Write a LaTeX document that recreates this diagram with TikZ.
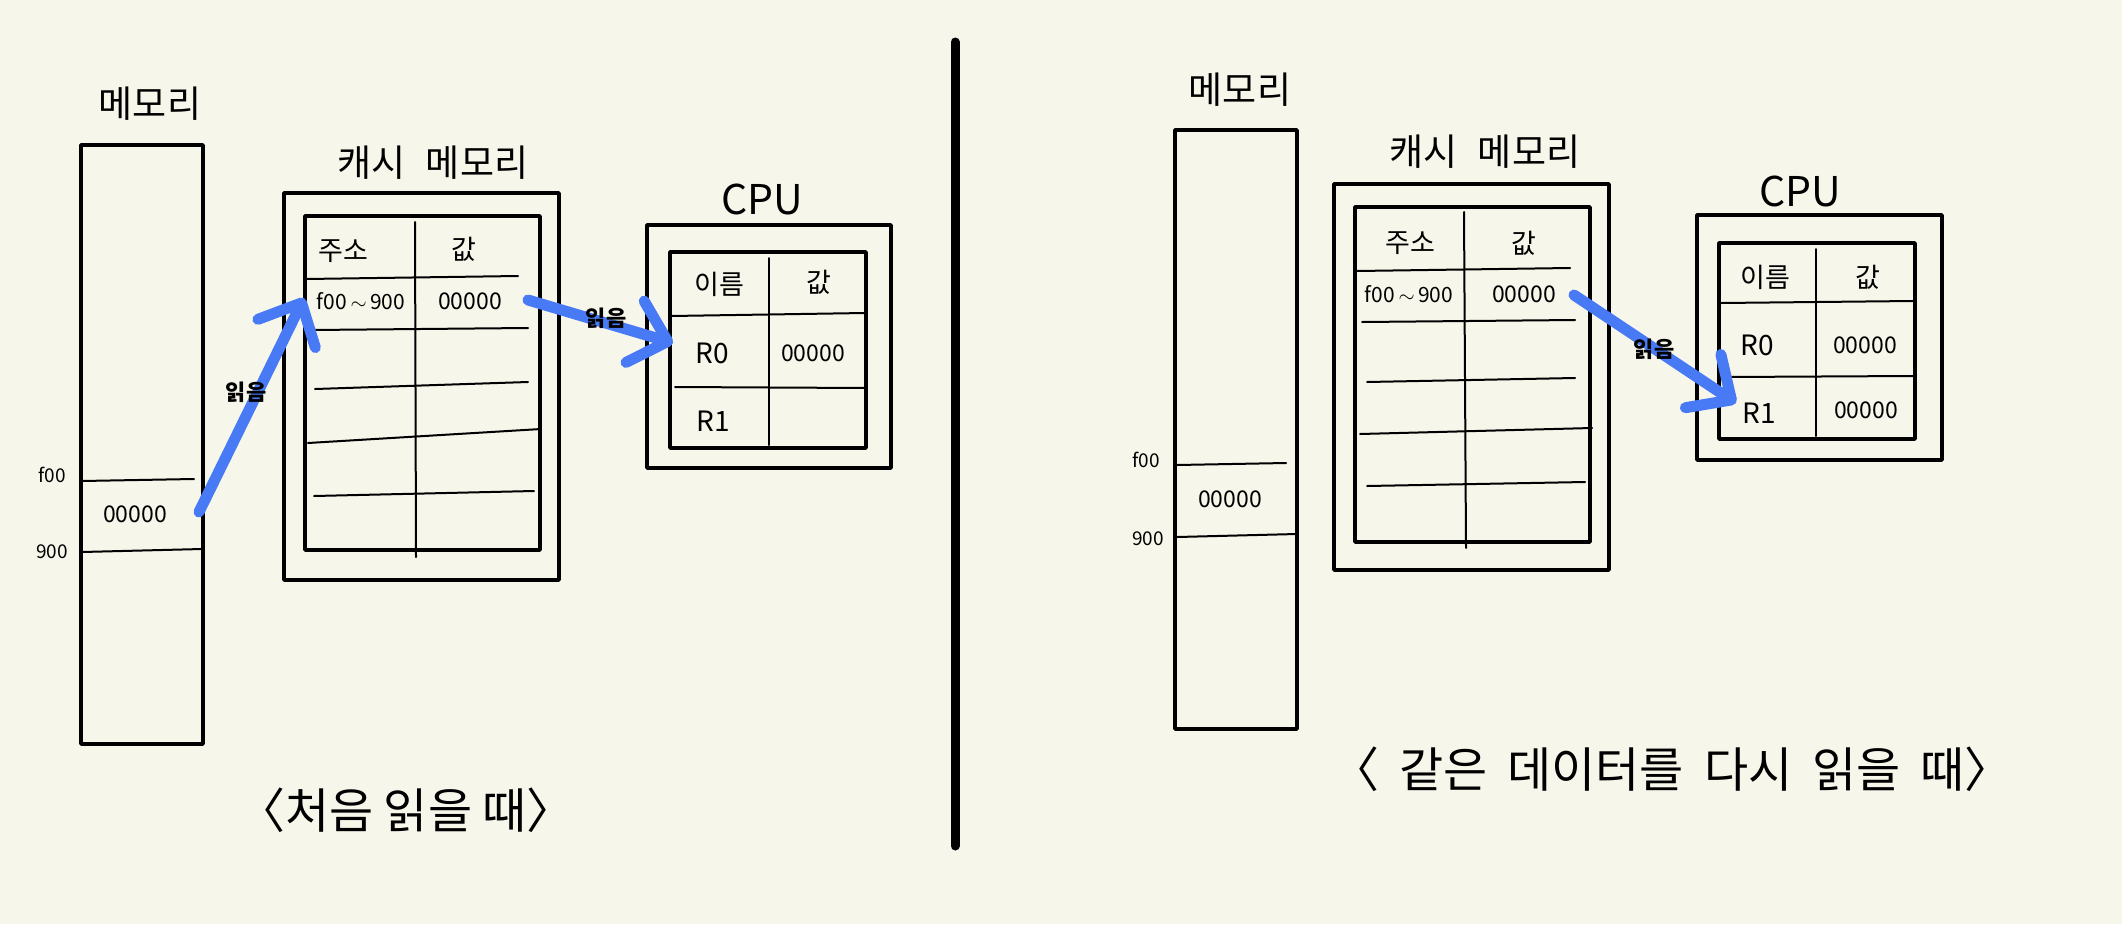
\documentclass[tikz,border=0pt]{standalone}
\usepackage{fontspec}
\newfontfamily\kr{Noto Sans CJK KR}
\usetikzlibrary{arrows.meta}
\definecolor{bg}{RGB}{247,246,234}
\definecolor{arrowblue}{RGB}{72,122,246}
\begin{document}
\begin{tikzpicture}[x=1pt,y=-1pt,
  every node/.style={inner sep=0pt, font=\kr},
  box/.style={line width=3.5pt, line join=round},
  rule/.style={line width=2pt, line cap=round},
  title/.style={font=\kr\fontsize{37}{40}\selectfont},
  cputitle/.style={font=\kr\fontsize{41}{44}\selectfont},
  head/.style={font=\kr\fontsize{27}{29}\selectfont},
  cell/.style={font=\kr\fontsize{23}{25}\selectfont},
  reg/.style={font=\kr\fontsize{28}{30}\selectfont},
  addr/.style={font=\kr\fontsize{21}{23}\selectfont},
  small/.style={font=\kr\fontsize{19}{21}\selectfont},
  caption/.style={font=\kr\fontsize{48}{50}\selectfont},
  readlabel/.style={font=\kr\bfseries\fontsize{22}{24}\selectfont},
  readarrow/.style={draw=arrowblue, line width=11pt, line cap=round,
    -{Straight Barb[length=34pt,width=64pt,round]}}]
\fill[bg] (0,0) rectangle (2122,924);
\useasboundingbox (0,0) rectangle (2122,924);

% ================= LEFT PANEL =================
\node[title] (memT1) at (150,104) {메모리};
\draw[box] (81,145) rectangle (203,744);
\draw[rule] (82,481) -- (194,479);
\draw[rule] (82,552) -- (202,549);
\node[small] (f1) at (52,475) {f00};
\node[small] (g1) at (52,552) {900};
\node[cell] (mv1) at (135,514) {00000};

\node[title] (cacheT1) at (433,163) {캐시\hspace{20pt}메모리};
\draw[box] (284,193) rectangle (559,580);
\draw[box] (305,216) rectangle (540,550);
\draw[rule] (415,222) -- (416,557);
\draw[rule] (306,279) -- (518,276);
\draw[rule] (312,330) -- (528,328);
\draw[rule] (315,389) -- (528,382);
\draw[rule] (308,443) -- (541,429);
\draw[rule] (314,496) -- (534,491);
\node[head] (ca1) at (343,251) {주소};
\node[head] (cv1) at (464,249) {값};
\node[addr] (cr1) at (361,301) {f00\,$\sim$\,900};
\node[cell] (cd1) at (470,301) {00000};

\node[cputitle] (cpuT1) at (762,199) {CPU};
\draw[box] (647,225) rectangle (891,468);
\draw[box] (670,252) rectangle (866,448);
\draw[rule] (769,258) -- (769,445);
\draw[rule] (671,316) -- (865,313);
\draw[rule] (675,387) -- (866,388);
\node[head] (pn1) at (719,284) {이름};
\node[head] (pv1) at (819,282) {값};
\node[reg] (r01) at (712,353) {R0};
\node[cell] (r0v1) at (813,353) {00000};
\node[reg] (r11) at (713,421) {R1};

\coordinate (a1s) at (199,512);
\coordinate (a1e) at (304,298);
\coordinate (a2s) at (528,300);
\coordinate (a2e) at (673,343);
\draw[readarrow] (a1s) -- (a1e);
\draw[readarrow] (a2s) -- (a2e);
\node[readlabel] (l1) at (246,392) {읽음};
\node[readlabel] (l2) at (606,318) {읽음};

\node[caption] (cap1) at (406,810) {〈처음\hspace{10pt}읽을\hspace{10pt}때〉};

% divider
\draw[line width=9pt, line cap=round] (955,42) -- (955,846);

% ================= RIGHT PANEL =================
\node[title] (memT2) at (1240,90) {메모리};
\draw[box] (1175,130) rectangle (1297,729);
\draw[rule] (1177,465) -- (1286,463);
\draw[rule] (1177,537) -- (1297,534);
\node[small] (f2) at (1146,460) {f00};
\node[small] (g2) at (1148,539) {900};
\node[cell] (mv2) at (1230,499) {00000};

\node[title] (cacheT2) at (1485,152) {캐시\hspace{20pt}메모리};
\draw[box] (1334,184) rectangle (1609,570);
\draw[box] (1355,207) rectangle (1590,542);
\draw[rule] (1464,212) -- (1466,548);
\draw[rule] (1357,271) -- (1570,268);
\draw[rule] (1362,322) -- (1575,320);
\draw[rule] (1367,382) -- (1575,378);
\draw[rule] (1360,434) -- (1592,428);
\draw[rule] (1367,486) -- (1585,482);
\node[head] (ca2) at (1410,243) {주소};
\node[head] (cv2) at (1524,243) {값};
\node[addr] (cr2) at (1409,294) {f00\,$\sim$\,900};
\node[cell] (cd2) at (1524,294) {00000};

\node[cputitle] (cpuT2) at (1800,191) {CPU};
\draw[box] (1697,215) rectangle (1942,460);
\draw[box] (1719,243) rectangle (1915,439);
\draw[rule] (1816,249) -- (1816,436);
\draw[rule] (1721,303) -- (1913,301);
\draw[rule] (1727,377) -- (1913,376);
\node[head] (pn2) at (1765,277) {이름};
\node[head] (pv2) at (1868,277) {값};
\node[reg] (r02) at (1757,345) {R0};
\node[cell] (r0v2) at (1865,345) {00000};
\node[reg] (r12) at (1759,413) {R1};
\node[cell] (r1v2) at (1866,410) {00000};

\coordinate (a3s) at (1574,295);
\coordinate (a3e) at (1736,403);
\draw[readarrow] (a3s) -- (a3e);
\node[readlabel] (l3) at (1654,349) {읽음};

\node[caption] (cap2) at (1672,769) {〈\hspace{20pt}같은\hspace{20pt}데이터를\hspace{20pt}다시\hspace{20pt}읽을\hspace{20pt}때〉};
\end{tikzpicture}
\end{document}
